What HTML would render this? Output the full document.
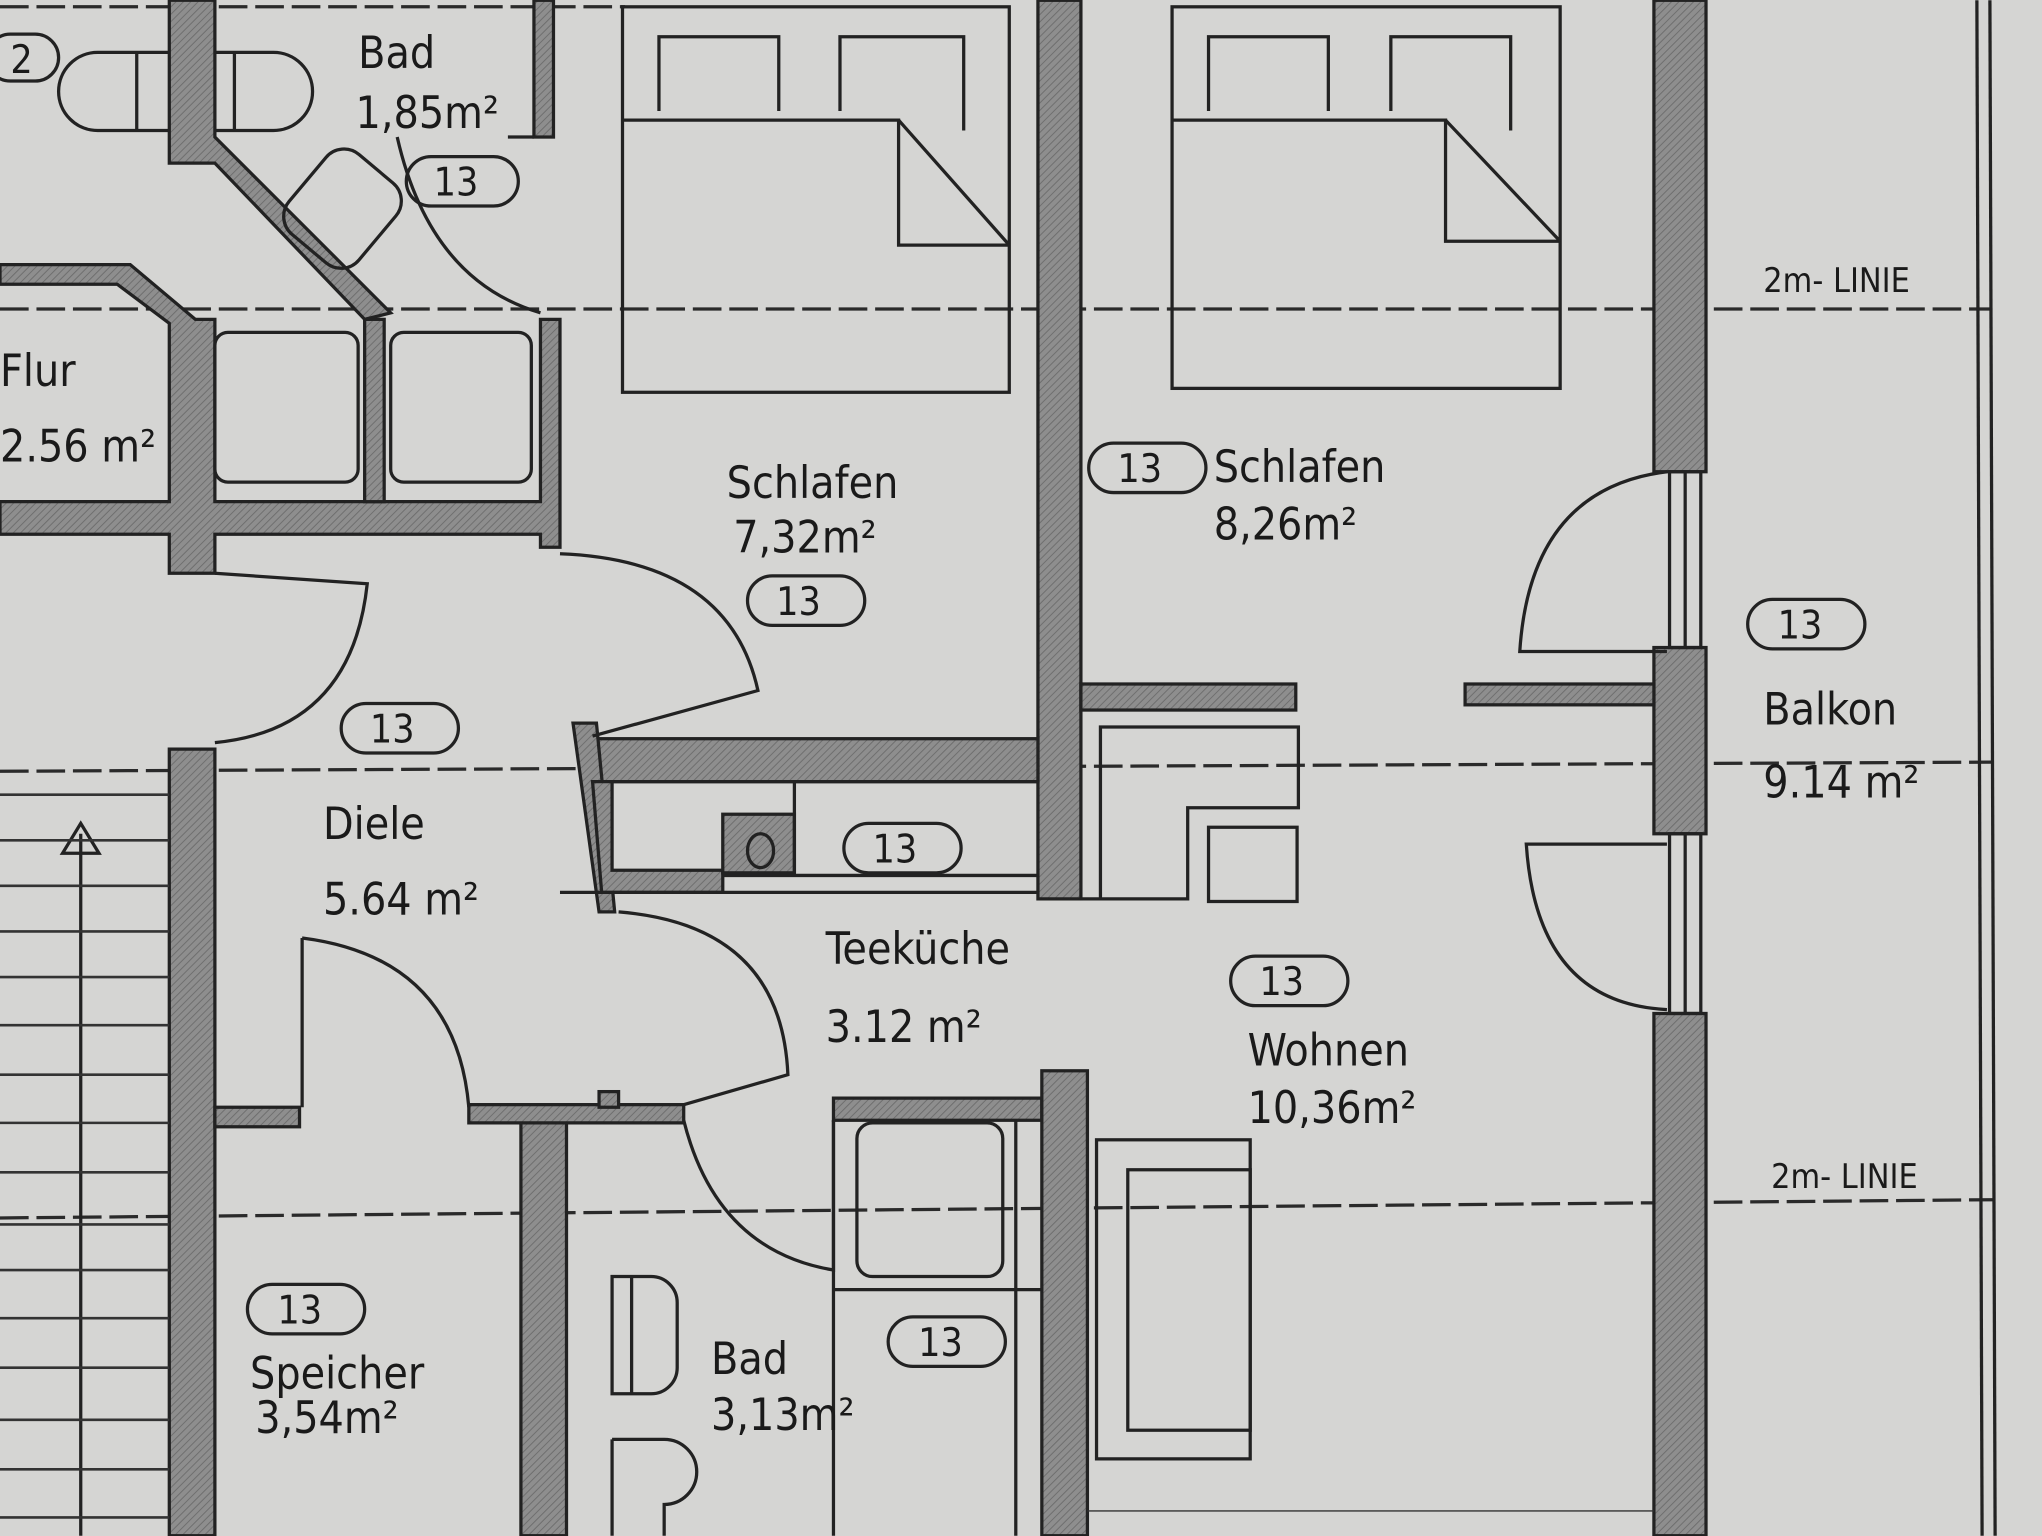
<!DOCTYPE html>
<html><head><meta charset="utf-8"><style>
html,body{margin:0;padding:0;background:#d5d5d3;}
svg{display:block}
text{font-family:"DejaVu Sans Condensed","Liberation Sans",sans-serif;fill:#1a1a1a}
</style></head><body>
<svg width="2042" height="1536" viewBox="0 0 1568 1179" xmlns="http://www.w3.org/2000/svg">
<defs>
<pattern id="h" width="4" height="4" patternUnits="userSpaceOnUse" patternTransform="rotate(45)">
<rect width="4" height="4" fill="#8e8e8e"/><line x1="0" y1="0" x2="0" y2="4" stroke="#6e6e6e" stroke-width="1.5"/></pattern>
</defs>
<rect width="1568" height="1179" fill="#d5d5d3"/>
<g stroke="#2a2a2a" stroke-dasharray="22,6" stroke-width="2.5" fill="none">
<line x1="0" y1="237" x2="1530" y2="237"/>
<line x1="0" y1="592" x2="1530" y2="585"/>
<line x1="0" y1="935" x2="1530" y2="921"/>
<line x1="0" y1="5" x2="480" y2="5"/>
</g>
<g fill="url(#h)" stroke="#222" stroke-width="2.5">
<polygon points="130,0 165,0 165,105 300,240 280,245 165,125 130,125"/>
<rect x="410" y="0" width="15" height="105"/>
<polygon points="0,203 100,203 150,245 165,245 165,385 415,385 415,245 430,245 430,420 415,420 415,410 165,410 165,440 130,440 130,410 0,410 0,385 130,385 130,248 90,218 0,218"/>
<rect x="280" y="245" width="15" height="140"/>
<rect x="797" y="0" width="33" height="690"/>
<rect x="448" y="567" width="349" height="33"/>
<polygon points="440,555 458,555 472,700 460,700"/>
<polygon points="455,600 470,600 470,668 555,668 555,685 462,685"/>
<rect x="830" y="525" width="165" height="20"/>
<rect x="1270" y="0" width="40" height="362"/>
<rect x="1270" y="497" width="40" height="143"/>
<rect x="1270" y="778" width="40" height="401"/>
<rect x="1125" y="525" width="145" height="16"/>
<rect x="130" y="575" width="35" height="604"/>
<rect x="165" y="850" width="65" height="15"/>
<rect x="400" y="850" width="35" height="329"/>
<rect x="360" y="848" width="165" height="14"/>
<rect x="640" y="843" width="160" height="17"/>
<rect x="800" y="822" width="35" height="357"/>
<rect x="555" y="625" width="55" height="45"/>
<rect x="460" y="838" width="15" height="12"/>
</g>
<g fill="none" stroke="#222" stroke-width="2.5">
<rect x="1282" y="362" width="24" height="135"/><line x1="1294" y1="362" x2="1294" y2="497"/>
<rect x="1282" y="640" width="24" height="138"/><line x1="1294" y1="640" x2="1294" y2="778"/>
<line x1="1518" y1="0" x2="1522" y2="1179"/><line x1="1528" y1="0" x2="1532" y2="1179"/>
<rect x="478" y="5" width="297" height="296"/>
<polyline points="506,85 506,28 598,28 598,85"/>
<polyline points="645,85 645,28 740,28 740,100"/>
<polyline points="478,92 690,92 690,188 775,188"/><line x1="690" y1="92" x2="775" y2="188"/>
<rect x="900" y="5" width="298" height="293"/>
<polyline points="928,85 928,28 1020,28 1020,85"/><polyline points="1068,85 1068,28 1160,28 1160,100"/>
<polyline points="900,92 1110,92 1110,185 1198,185"/><line x1="1110" y1="92" x2="1198" y2="185"/>
<path d="M130,40 H75 A30,30 0 0 0 75,100 H130"/><line x1="105" y1="40" x2="105" y2="100"/>
<path d="M165,40 H210 A30,30 0 0 1 210,100 H165"/><line x1="180" y1="40" x2="180" y2="100"/>
<rect x="228" y="120" width="70" height="80" rx="18" transform="rotate(40 263 160)"/>
<rect x="165" y="255" width="110" height="115" rx="10"/><rect x="300" y="255" width="108" height="115" rx="10"/>
<path d="M305,105 Q330,215 415,240"/><path d="M390,105 H410"/>
<path d="M430,425 Q560,430 582,530 L455,565"/>
<path d="M165,570 Q270,560 282,448 L165,440"/>
<path d="M475,700 Q600,710 605,825 L525,848"/>
<path d="M232,720 Q350,735 360,850"/><line x1="232" y1="720" x2="232" y2="850"/>
<path d="M525,860 Q550,960 640,975 L640,860"/>
<path d="M1280,362 Q1175,375 1167,500 L1280,500"/>
<path d="M1280,775 Q1180,770 1172,648 L1280,648"/>
<line x1="470" y1="600" x2="797" y2="600"/>
<line x1="610" y1="600" x2="610" y2="670"/>
<line x1="555" y1="672" x2="797" y2="672"/>
<line x1="430" y1="685" x2="797" y2="685"/>
<ellipse cx="584" cy="653" rx="10" ry="13"/>
<polyline points="845,690 845,558 997,558 997,620 912,620 912,690 830,690"/>
<rect x="928" y="635" width="68" height="57"/>
<rect x="658" y="862" width="112" height="118" rx="12"/><line x1="640" y1="860" x2="640" y2="1179"/><line x1="780" y1="860" x2="780" y2="1179"/>
<line x1="640" y1="990" x2="800" y2="990"/>
<path d="M470,980 H500 A20,20 0 0 1 520,1000 V1050 A20,20 0 0 1 500,1070 H470 Z"/><line x1="485" y1="980" x2="485" y2="1070"/>
<path d="M470,1105 H510 A25,25 0 0 1 510,1155 V1179 M470,1105 V1179"/>
<rect x="842" y="875" width="118" height="245"/><rect x="866" y="898" width="94" height="200"/>
<line x1="62" y1="640" x2="62" y2="1179"/><polygon points="48,655 62,632 76,655" />
</g>
<g stroke="#333" stroke-width="2">
<line x1="0" y1="610" x2="130" y2="610"/><line x1="0" y1="645" x2="130" y2="645"/><line x1="0" y1="680" x2="130" y2="680"/>
<line x1="0" y1="715" x2="130" y2="715"/><line x1="0" y1="750" x2="130" y2="750"/><line x1="0" y1="787" x2="130" y2="787"/>
<line x1="0" y1="825" x2="130" y2="825"/><line x1="0" y1="862" x2="130" y2="862"/><line x1="0" y1="900" x2="130" y2="900"/>
<line x1="0" y1="940" x2="130" y2="940"/><line x1="0" y1="975" x2="130" y2="975"/><line x1="0" y1="1012" x2="130" y2="1012"/>
<line x1="0" y1="1050" x2="130" y2="1050"/><line x1="0" y1="1090" x2="130" y2="1090"/><line x1="0" y1="1128" x2="130" y2="1128"/>
<line x1="0" y1="1165" x2="130" y2="1165"/>
<line x1="1270" y1="1160" x2="835" y2="1160" stroke-width="1"/>
</g>
<g fill="none" stroke="#222" stroke-width="2.5">
<rect x="-10" y="26" width="55" height="36" rx="18"/>
<rect x="312" y="120" width="86" height="38" rx="19"/>
<rect x="574" y="442" width="90" height="38" rx="19"/>
<rect x="836" y="340" width="90" height="38" rx="19"/>
<rect x="262" y="540" width="90" height="38" rx="19"/>
<rect x="648" y="632" width="90" height="38" rx="19"/>
<rect x="1342" y="460" width="90" height="38" rx="19"/>
<rect x="945" y="734" width="90" height="38" rx="19"/>
<rect x="190" y="986" width="90" height="38" rx="19"/>
<rect x="682" y="1011" width="90" height="38" rx="19"/>
</g>
<g font-size="30">
<text x="8" y="56">2</text>
<text x="333" y="150">13</text><text x="596" y="472">13</text><text x="858" y="370">13</text>
<text x="284" y="570">13</text><text x="670" y="662">13</text><text x="1365" y="490">13</text>
<text x="967" y="764">13</text><text x="213" y="1016">13</text><text x="705" y="1041">13</text>
<text x="275" y="52" font-size="34">Bad</text><text x="273" y="98" font-size="34">1,85m²</text>
<text x="0" y="296" font-size="34">Flur</text><text x="0" y="354" font-size="34">2.56 m²</text>
<text x="558" y="382" font-size="34">Schlafen</text><text x="563" y="424" font-size="34">7,32m²</text>
<text x="932" y="370" font-size="34">Schlafen</text><text x="932" y="414" font-size="34">8,26m²</text>
<text x="1354" y="556" font-size="34">Balkon</text><text x="1354" y="612" font-size="34">9.14 m²</text>
<text x="248" y="644" font-size="34">Diele</text><text x="248" y="702" font-size="34">5.64 m²</text>
<text x="634" y="740" font-size="34">Teeküche</text><text x="634" y="800" font-size="34">3.12 m²</text>
<text x="958" y="818" font-size="34">Wohnen</text><text x="958" y="862" font-size="34">10,36m²</text>
<text x="192" y="1066" font-size="34">Speicher</text><text x="196" y="1100" font-size="34">3,54m²</text>
<text x="546" y="1055" font-size="34">Bad</text><text x="546" y="1098" font-size="34">3,13m²</text>
<text x="1354" y="224" font-size="26">2m- LINIE</text><text x="1360" y="912" font-size="26">2m- LINIE</text>
</g>
</svg>
</body></html>
